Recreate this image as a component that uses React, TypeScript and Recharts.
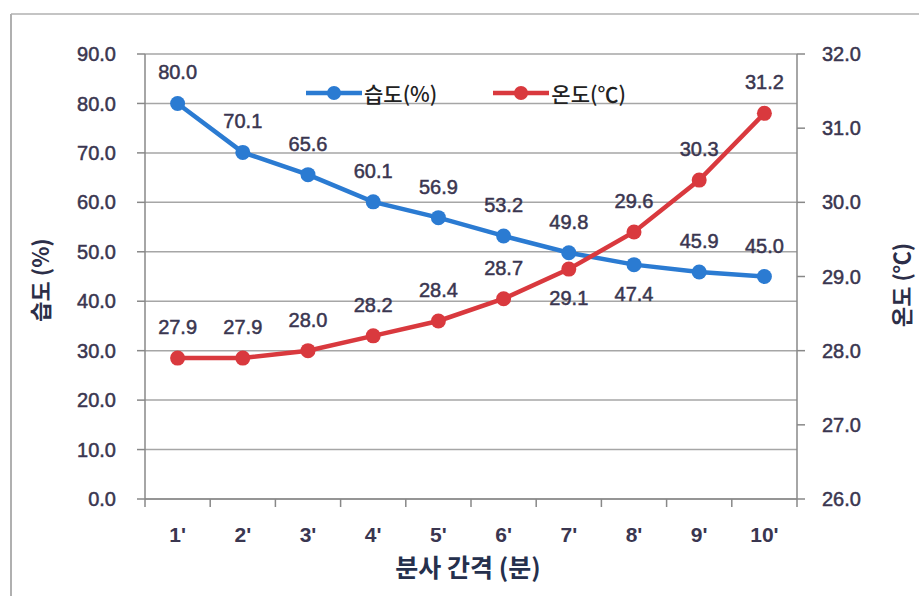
import React from 'react';
import { LineChart, Line, XAxis, YAxis, CartesianGrid, Legend, LabelList } from 'recharts';

const categories = ["1'", "2'", "3'", "4'", "5'", "6'", "7'", "8'", "9'", "10'"];
const humidity = [80.0, 70.1, 65.6, 60.1, 56.9, 53.2, 49.8, 47.4, 45.9, 45.0];
const temperature = [27.9, 27.9, 28.0, 28.2, 28.4, 28.7, 29.1, 29.6, 30.3, 31.2];
const humidityTicks = [0, 10, 20, 30, 40, 50, 60, 70, 80, 90];
const temperatureTicks = [26, 27, 28, 29, 30, 31, 32];

// label placement: negative = above the point, positive = below
const humidityLabelShift = [-31, -31, -31, -31, -31, -31, -31, 29, -31, -31];
const temperatureLabelShift = [-31, -31, -31, -31, -31, -31, 29, -31, -31, -31];

const data = categories.map((name, i) => ({
  name,
  humidity: humidity[i],
  temperature: temperature[i],
}));

const W = 919;
const H = 596;
const LEFT_AXIS_W = 145;
const RIGHT_AXIS_W = 122;
const PLOT_W = W - LEFT_AXIS_W - RIGHT_AXIS_W;
const STEP = PLOT_W / categories.length;

const BLUE = '#2b7bd2';
const RED = '#d9393e';
const TEXT = '#3a3650';
const GRID = '#a6a6a6';
const NUM_FONT = '"Liberation Sans", Arial, sans-serif';
const KR_FONT = '"Noto Sans CJK KR", "Noto Sans", sans-serif';

// thin outline in the fill colour gives the numbers a slightly heavier weight
const numStyle = { stroke: TEXT, strokeWidth: 0.5 };

const makeLabel = (shift: number[]) => (props: any) => {
  const { x, y, value, index } = props;
  return (
    <text
      x={x}
      y={y + shift[index]}
      textAnchor="middle"
      dominantBaseline="central"
      fill={TEXT}
      fontSize={20}
      fontFamily={NUM_FONT}
      style={numStyle}
    >
      {Number(value).toFixed(1)}
    </text>
  );
};

const CategoryTick = (props: any) => {
  const { x, y, payload, index } = props;
  const isLast = index === categories.length - 1;
  return (
    <g>
      <line x1={x - STEP / 2} x2={x - STEP / 2} y1={y} y2={y + 8} stroke="#888" strokeWidth={1.5} />
      {isLast && <line x1={x + STEP / 2} x2={x + STEP / 2} y1={y} y2={y + 8} stroke="#888" strokeWidth={1.5} />}
      <text
        x={x}
        y={y + 35}
        textAnchor="middle"
        dominantBaseline="central"
        fill={TEXT}
        fontSize={21}
        fontWeight="bold"
        fontFamily={NUM_FONT}
      >
        {payload.value}
      </text>
    </g>
  );
};

const LegendContent = (props: any) => {
  const { payload = [] } = props;
  return (
    <div style={{ display: 'flex', alignItems: 'center' }}>
      {payload.map((entry: any, i: number) => (
        <div key={i} style={{ display: 'flex', alignItems: 'center', marginRight: i === 0 ? 56 : 0 }}>
          <svg width={56} height={20}>
            <line x1={0} x2={56} y1={10} y2={10} stroke={entry.color} strokeWidth={4.5} />
            <circle cx={28} cy={10} r={7} fill={entry.color} />
          </svg>
          <span style={{ fontFamily: KR_FONT, fontSize: 21, color: '#222', marginLeft: 2, fontWeight: 500 }}>
            {entry.value}
          </span>
        </div>
      ))}
    </div>
  );
};

export default function App() {
  return (
    <div style={{ position: 'absolute', left: 0, top: 0, width: W, height: H, background: '#fff', overflow: 'hidden' }}>
      <LineChart width={W} height={H} data={data} margin={{ top: 54, right: 0, bottom: 0, left: 0 }}>
        <CartesianGrid yAxisId="left" vertical={false} stroke={GRID} strokeWidth={1.5} />
        <XAxis
          dataKey="name"
          height={97}
          padding={{ left: STEP / 2, right: STEP / 2 }}
          tickLine={false}
          tickSize={0}
          tickMargin={0}
          axisLine={{ stroke: '#888', strokeWidth: 1.5 }}
          tick={<CategoryTick />}
          interval={0}
        />
        <YAxis
          yAxisId="left"
          width={LEFT_AXIS_W}
          domain={[0, 90]}
          ticks={humidityTicks}
          tickFormatter={(v: number) => v.toFixed(1)}
          tickSize={8}
          tickMargin={21}
          tickLine={{ stroke: '#888', strokeWidth: 1.5 }}
          axisLine={{ stroke: '#888', strokeWidth: 1.5 }}
          tick={{ fill: TEXT, fontSize: 20, fontFamily: NUM_FONT, ...numStyle }}
        />
        <YAxis
          yAxisId="right"
          orientation="right"
          width={RIGHT_AXIS_W}
          domain={[26, 32]}
          ticks={temperatureTicks}
          tickFormatter={(v: number) => v.toFixed(1)}
          tickSize={8}
          tickMargin={17}
          tickLine={{ stroke: '#888', strokeWidth: 1.5 }}
          axisLine={{ stroke: '#888', strokeWidth: 1.5 }}
          tick={{ fill: TEXT, fontSize: 20, fontFamily: NUM_FONT, ...numStyle }}
        />
        <Legend
          verticalAlign="middle"
          content={<LegendContent />}
          wrapperStyle={{ top: 78, left: 306, width: 'auto' }}
        />
        <Line
          yAxisId="left"
          dataKey="humidity"
          name="습도(%)"
          stroke={BLUE}
          strokeWidth={4.5}
          dot={{ r: 7.5, fill: BLUE, stroke: BLUE, strokeWidth: 0 }}
          isAnimationActive={false}
        >
          <LabelList dataKey="humidity" content={makeLabel(humidityLabelShift)} />
        </Line>
        <Line
          yAxisId="right"
          dataKey="temperature"
          name="온도(℃)"
          stroke={RED}
          strokeWidth={4.5}
          dot={{ r: 7.5, fill: RED, stroke: RED, strokeWidth: 0 }}
          isAnimationActive={false}
        >
          <LabelList dataKey="temperature" content={makeLabel(temperatureLabelShift)} />
        </Line>
      </LineChart>
      {/* frame and axis titles */}
      <svg width={W} height={H} style={{ position: 'absolute', left: 0, top: 0, pointerEvents: 'none' }}>
        <line x1={11} x2={W} y1={14} y2={14} stroke="#c4c4c4" strokeWidth={2} />
        <line x1={11} x2={11} y1={14} y2={H} stroke="#b0b0b0" strokeWidth={2} />
        <text
          transform="translate(39,280) rotate(-90)"
          textAnchor="middle"
          dominantBaseline="central"
          fill="#2c2e48"
          fontSize={22}
          fontWeight="bold"
          fontFamily={KR_FONT}
        >
          습도 (%)
        </text>
        <text
          transform="translate(900,285) rotate(-90)"
          textAnchor="middle"
          dominantBaseline="central"
          fill="#2c2e48"
          fontSize={22}
          fontWeight="bold"
          fontFamily={KR_FONT}
        >
          온도 (℃)
        </text>
        <text
          x={468}
          y={566}
          textAnchor="middle"
          dominantBaseline="central"
          fill="#25304d"
          fontSize={25}
          fontWeight="bold"
          fontFamily={KR_FONT}
        >
          분사 간격 (분)
        </text>
      </svg>
    </div>
  );
}
